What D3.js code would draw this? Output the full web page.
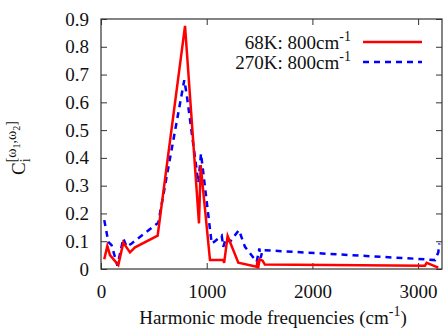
<!DOCTYPE html>
<html>
<head>
<meta charset="utf-8">
<script src="https://cdn.jsdelivr.net/npm/d3@7"></script>
<style>
	body { margin: 0; background: #fff; }
	.axis path, .axis line { stroke: #333; }
	text { font-family: "Liberation Serif" !important; }
</style>
</head>
<body>
<svg></svg>
<script>
	// 68K series (frequency, C value)
	var redX = [31, 60, 85, 164, 211, 274, 322, 536, 795, 927, 943, 1031, 1157, 1165, 1198, 1299, 1473, 1480, 1486, 1500, 1529, 1550, 3065, 3081, 3191];
	var redY = [0.035, 0.083, 0.05, 0.014, 0.095, 0.06, 0.078, 0.12, 0.875, 0.164, 0.374, 0.032, 0.032, 0.022, 0.119, 0.023, 0.008, 0.03, 0.002, 0.035, 0.03, 0.016, 0.012, 0.022, 0.005];
	// 270K series
	var blueX = [31, 69, 100, 155, 211, 243, 290, 542, 788, 810, 921, 946, 1047, 1078, 1142, 1157, 1182, 1220, 1305, 1362, 1473, 1498, 1510, 1530, 3065, 3160, 3191, 3200];
	var blueY = [0.176, 0.098, 0.086, 0.012, 0.11, 0.08, 0.092, 0.167, 0.68, 0.63, 0.31, 0.416, 0.092, 0.1, 0.12, 0.08, 0.11, 0.098, 0.14, 0.08, 0.026, 0.074, 0.04, 0.068, 0.035, 0.032, 0.06, 0.092];
	var xTicks = [0, 1000, 2000, 3000];
	var yTicks = [0, 0.1, 0.2, 0.3, 0.4, 0.5, 0.6, 0.7, 0.8, 0.9];
	var seriesNames = ["68K: 800cm", "270K: 800cm"];

	var width = 446, height = 328;
	var m = { left: 101, right: 4, top: 19, bottom: 59 };
	var font = "Liberation Serif";

	var svg = d3.select("svg").attr("width", width).attr("height", height)
		.style("font-family", font);

	var x = d3.scaleLinear().domain([0, 3226]).range([m.left, width - m.right]);
	var y = d3.scaleLinear().domain([0, 0.9]).range([height - m.bottom, m.top]);

	// axes with inward ticks, mirrored on top and right
	svg.append("g").attr("class", "axis")
		.attr("transform", "translate(0," + y(0) + ")")
		.call(d3.axisBottom(x).tickValues(xTicks).tickSize(-6).tickPadding(16).tickFormat(d3.format("d")));
	svg.append("g").attr("class", "axis")
		.attr("transform", "translate(0," + y(0.9) + ")")
		.call(d3.axisTop(x).tickValues(xTicks).tickSize(-6).tickFormat(""));
	svg.append("g").attr("class", "axis")
		.attr("transform", "translate(" + x(0) + ",0)")
		.call(d3.axisLeft(y).tickValues(yTicks).tickSize(-6).tickPadding(12).tickFormat(d => d === 0 ? "0" : d3.format(".1f")(d)));
	svg.append("g").attr("class", "axis")
		.attr("transform", "translate(" + x.range()[1] + ",0)")
		.call(d3.axisRight(y).tickValues(yTicks).tickSize(-6).tickFormat(""));
	svg.selectAll(".axis").attr("font-family", font).attr("font-size", 19);
	svg.selectAll(".axis text").attr("fill", "#111");
	svg.selectAll(".axis .domain").remove();
	svg.append("rect")
		.attr("x", x.range()[0]).attr("y", y(0.9))
		.attr("width", x.range()[1] - x.range()[0]).attr("height", y(0) - y(0.9))
		.attr("fill", "none").attr("stroke", "#333").attr("stroke-width", 1.2);

	var line = d3.line().x(d => x(d[0])).y(d => y(d[1]));
	var plot = svg.append("g");
	plot.append("path")
		.datum(blueX.map((v, i) => [v, blueY[i]]))
		.attr("d", line).attr("fill", "none")
		.attr("stroke", "#0000ff").attr("stroke-width", 2.5)
		.attr("stroke-dasharray", "6,5");
	plot.append("path")
		.datum(redX.map((v, i) => [v, redY[i]]))
		.attr("d", line).attr("fill", "none")
		.attr("stroke", "#ff0000").attr("stroke-width", 2.5);

	// legend
	var colors = ["#ff0000", "#0000ff"];
	var dashes = [null, "6,5"];
	seriesNames.forEach((name, i) => {
		var ly = 42 + i * 20;
		var t = svg.append("text")
			.attr("x", 351).attr("y", ly + 7)
			.attr("text-anchor", "end")
			.attr("font-family", font)
			.attr("font-size", 19).attr("fill", "#111");
		t.append("tspan").text(name);
		t.append("tspan").attr("dy", -8).attr("font-size", 14).text("-1");
		svg.append("line")
			.attr("x1", 363).attr("x2", 422).attr("y1", ly).attr("y2", ly)
			.attr("stroke", colors[i]).attr("stroke-width", 2.5)
			.attr("stroke-dasharray", dashes[i]);
	});

	// x axis title
	var xt = svg.append("text")
		.attr("x", 273).attr("y", 324)
		.attr("text-anchor", "middle")
		.attr("font-family", font)
		.attr("font-size", 19).attr("fill", "#111");
	xt.append("tspan").text("Harmonic mode frequencies (cm");
	xt.append("tspan").attr("dy", -8).attr("font-size", 14).text("-1");
	xt.append("tspan").attr("dy", 8).text(")");

	// y axis title
	var yt = svg.append("text")
		.attr("transform", "translate(25,148) rotate(-90)")
		.attr("text-anchor", "middle")
		.attr("font-family", font)
		.attr("font-size", 19).attr("fill", "#111");
	yt.append("tspan").text("C");
	yt.append("tspan").attr("dy", 5).attr("font-size", 14).text("i");
	yt.append("tspan").attr("dx", -4).attr("dy", -14).attr("font-size", 14).text("[ω");
	yt.append("tspan").attr("dy", 4).attr("font-size", 10).text("1");
	yt.append("tspan").attr("dy", -4).attr("font-size", 14).text(",ω");
	yt.append("tspan").attr("dy", 4).attr("font-size", 10).text("2");
	yt.append("tspan").attr("dy", -4).attr("font-size", 14).text("]");
</script>
</body>
</html>
